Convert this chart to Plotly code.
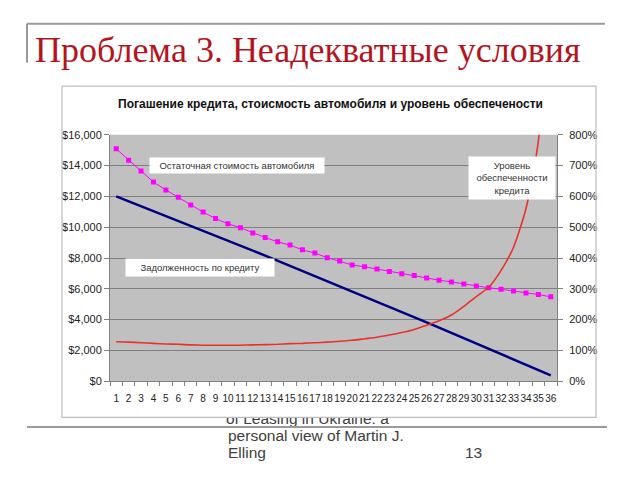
import plotly.graph_objects as go

# page body keeps an 8px margin, so the figure is drawn 8px smaller on each side
OFF = 8
W, H = 640 - 2 * OFF, 480 - 2 * OFF

months = [str(i) for i in range(1, 37)]
car_value = [15090, 14350, 13650, 12930, 12420, 11940, 11450, 10980, 10560, 10220,
             9970, 9630, 9330, 9050, 8840, 8530, 8320, 8020, 7810, 7550,
             7430, 7280, 7130, 6980, 6860, 6700, 6560, 6450, 6320, 6180,
             6070, 5970, 5860, 5730, 5630, 5480]
debt = [12000, 11685, 11370, 11050, 10735, 10415, 10095, 9775, 9450, 9130,
        8805, 8480, 8155, 7825, 7500, 7170, 6840, 6510, 6175, 5845,
        5510, 5175, 4840, 4500, 4165, 3825, 3485, 3145, 2800, 2460,
        2115, 1770, 1425, 1080, 730, 380]
coverage = [128, 127, 125, 123, 121, 120, 118, 117, 117, 117,
            117, 118, 119, 120, 122, 123, 125, 127, 130, 133,
            138, 143, 150, 158, 168, 182, 196, 215, 243, 275,
            305, 360, 435, 560, 780, 1440]

usd_ticks = [0, 2000, 4000, 6000, 8000, 10000, 12000, 14000, 16000]
usd_labels = ['$0', '$2,000', '$4,000', '$6,000', '$8,000', '$10,000', '$12,000', '$14,000', '$16,000']
pct_ticks = [0, 100, 200, 300, 400, 500, 600, 700, 800]
pct_labels = ['0%', '100%', '200%', '300%', '400%', '500%', '600%', '700%', '800%']

title = "Проблема 3. Неадекватные условия"
chart_title = "Погашение кредита, стоисмость автомобиля и уровень обеспечености"
footer = ["of Leasing in Ukraine: a", "personal view of Martin J.", "Elling"]

# plot area in screen pixels
PL, PR, PT, PB = 110, 557, 132, 385
# strip below the chart box where the first footer line peeks out
FL, FR, FT, FB = 220, 440, 422, 440


def px(x):
    return (x - OFF) / W


def py(y):
    return 1 - (y - OFF) / H


fig = go.Figure()
fig.add_trace(go.Scatter(x=months, y=car_value, mode='lines+markers', name='car',
                         line=dict(color='#FF00FF', width=1),
                         marker=dict(symbol='square', size=5, color='#FF00FF')))
fig.add_trace(go.Scatter(x=months, y=debt, mode='lines', name='debt',
                         line=dict(color='#000080', width=2.5)))
fig.add_trace(go.Scatter(x=months, y=coverage, mode='lines', name='coverage', yaxis='y2',
                         line=dict(color='#E8312A', width=1.6, shape='spline', smoothing=0.6)))
# first footer line, clipped by its own little subplot so only its lower half shows
foot_font = dict(family='Liberation Sans, Arial', size=15.5, color='#404040')
fig.add_trace(go.Scatter(x=[226], y=[425], mode='text', text=[footer[0]], textposition='middle right',
                         xaxis='x3', yaxis='y3', cliponaxis=True, textfont=foot_font))

axis_font = dict(family='Liberation Sans, Arial', size=11, color='#222')
fig.update_layout(
    width=W, height=H, autosize=False, showlegend=False,
    margin=dict(l=0, r=0, t=0, b=0),
    paper_bgcolor='white', plot_bgcolor='rgba(0,0,0,0)',
    xaxis=dict(domain=[px(PL), px(PR)], type='category', range=[-0.5, 35.5], tickson='boundaries',
               tickmode='array', tickvals=months, ticktext=months, ticklabelstandoff=8,
               ticks='outside', ticklen=4, tickcolor='#808080', showline=True, linecolor='#808080',
               showgrid=False, tickangle=0, anchor='y',
               tickfont=dict(family='Liberation Sans, Arial', size=10, color='#222')),
    yaxis=dict(domain=[py(PB), py(PT)], range=[0, 16000], tickvals=usd_ticks, ticktext=usd_labels,
               ticks='outside', ticklen=5, tickcolor='#808080', showline=True,
               linecolor='#808080', showgrid=True, gridcolor='#7F7F7F', gridwidth=1,
               zeroline=False, tickfont=axis_font),
    yaxis2=dict(overlaying='y', side='right', range=[0, 800], tickvals=pct_ticks, ticktext=pct_labels,
                ticks='outside', ticklen=5, tickcolor='#808080', showline=True, linecolor='#808080',
                showgrid=False, zeroline=False, ticklabelstandoff=4, tickfont=axis_font),
    xaxis3=dict(domain=[px(FL), px(FR)], range=[FL, FR], visible=False, anchor='y3'),
    yaxis3=dict(domain=[py(FB), py(FT)], range=[FB, FT], visible=False, anchor='x3'),
)

shapes = []
# chart box and plot area
shapes.append(dict(type='rect', xref='paper', yref='paper', x0=px(62), x1=px(596), y0=py(422), y1=py(82),
                   fillcolor='white', line=dict(width=0), layer='below'))
shapes.append(dict(type='rect', xref='paper', yref='paper', x0=px(PL), x1=px(PR), y0=py(PB), y1=py(PT),
                   fillcolor='#C0C0C0', line=dict(width=0), layer='below'))
shapes.append(dict(type='rect', xref='paper', yref='paper', x0=px(62), x1=px(596), y0=py(422), y1=py(82),
                   fillcolor='rgba(0,0,0,0)', line=dict(color='#BDBDBD', width=1.2), layer='above'))
# slide lines
for x0, y0, x1, y1 in [(27, 18, 605, 18), (27, 18, 27, 58), (27, 432, 607, 432)]:
    shapes.append(dict(type='line', xref='paper', yref='paper', x0=px(x0), y0=py(y0), x1=px(x1), y1=py(y1),
                       line=dict(color='#9A9A9A', width=2)))
fig.update_layout(shapes=shapes)

box_font = dict(family='Liberation Sans, Arial', size=9.5, color='#333')
annotations = [
    dict(x=px(33), y=py(45), text=title, xanchor='left',
         font=dict(family='Liberation Serif, Times New Roman', size=36, color='#B3141D')),
    dict(x=px(330), y=py(100), text='<b>' + chart_title + '</b>', xanchor='center',
         font=dict(family='Liberation Sans, Arial', size=12, color='#111')),
    dict(x=px(237), y=py(164), text='Остаточная стоимость автомобиля', xanchor='center',
         bgcolor='white', borderpad=2, width=170, font=box_font),
    dict(x=px(200), y=py(268), text='Задолженность по кредиту', xanchor='center',
         bgcolor='white', borderpad=3, width=142, font=box_font),
    dict(x=px(512), y=py(176), text='Уровень<br>обеспеченности<br>кредита', xanchor='center',
         bgcolor='white', borderpad=3, width=80, font=box_font),
    dict(x=px(226), y=py(441), text=footer[1], xanchor='left', font=foot_font),
    dict(x=px(226), y=py(458), text=footer[2], xanchor='left', font=foot_font),
    dict(x=px(473), y=py(458), text='13', xanchor='center', font=foot_font),
]
for a in annotations:
    a.update(xref='paper', yref='paper', yanchor='middle', showarrow=False)
fig.update_layout(annotations=annotations)

fig.write_html("out.html")
